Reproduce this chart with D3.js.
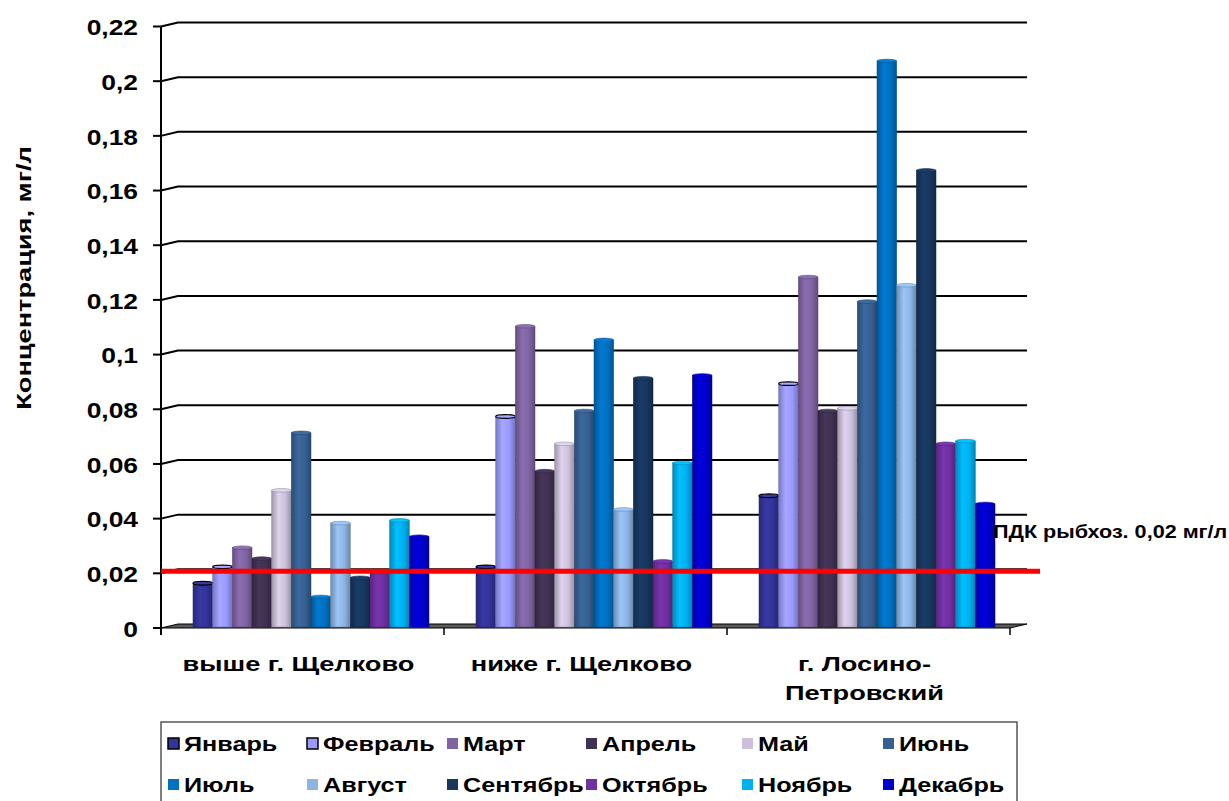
<!DOCTYPE html>
<html>
<head>
<meta charset="utf-8">
<script src="https://cdn.jsdelivr.net/npm/d3@7"></script>
<style>
  body { margin: 0; background: #fff; }
  svg { display: block; font-family: Arial, "Liberation Sans", sans-serif; font-weight: bold; }
</style>
</head>
<body>
<div id="chart"></div>
<script>
// categories (sampling points) and months
var categories = ["выше г. Щелково", "ниже г. Щелково", "г. Лосино-Петровский"];
var category_lines = [["выше г. Щелково"], ["ниже г. Щелково"], ["г. Лосино-", "Петровский"]];
var months = ["Январь", "Февраль", "Март", "Апрель", "Май", "Июнь",
              "Июль", "Август", "Сентябрь", "Октябрь", "Ноябрь", "Декабрь"];
var month_colors = ["#333399", "#9999ff", "#8064a2", "#403152", "#ccc0da", "#376092",
                    "#0070c0", "#8db4e2", "#17375e", "#7030a0", "#00b0f0", "#0000cc"];

// concentration, mg/l, one array per category
var above_shchelkovo = [0.016, 0.022, 0.029, 0.025, 0.050, 0.071, 0.011, 0.038, 0.018, 0.020, 0.039, 0.033];
var below_shchelkovo = [0.022, 0.077, 0.110, 0.057, 0.067, 0.079, 0.105, 0.043, 0.091, 0.024, 0.060, 0.092];
var losino_petrovsky = [0.048, 0.089, 0.128, 0.079, 0.080, 0.119, 0.207, 0.125, 0.167, 0.067, 0.068, 0.045];
var series_by_category = [above_shchelkovo, below_shchelkovo, losino_petrovsky];

var y_ticks = [0, 0.02, 0.04, 0.06, 0.08, 0.1, 0.12, 0.14, 0.16, 0.18, 0.2, 0.22];
var pdk_value = 0.02;
var pdk_label = "ПДК рыбхоз. 0,02 мг/л";
var y_title = "Концентрация, мг/л";

var width = 1229, height = 801;
var svg = d3.select("#chart").append("svg")
    .attr("width", width)
    .attr("height", height);

var y = d3.scaleLinear().domain([0, 0.22]).range([628, 26.5]);
var x0 = d3.scaleBand().domain(categories).range([161, 1010]);
var x1 = d3.scaleBand().domain(months).range([32, 268]);

var depth_x = 17, depth_y = 4;   // pseudo 3d offset of back wall

// the original picture has its text stretched sideways
function place(sel, x, y, sx) {
    return sel.attr("transform", "translate(" + x + "," + y + ") scale(" + sx + ",1)");
}

// gradients for cylinder look
var defs = svg.append("defs");
month_colors.forEach(function(c, i) {
    var g = defs.append("linearGradient").attr("id", "cyl" + i)
        .attr("x1", "0%").attr("x2", "100%").attr("y1", "0%").attr("y2", "0%");
    var base = d3.color(c);
    g.append("stop").attr("offset", "0%").attr("stop-color", base.darker(0.7));
    g.append("stop").attr("offset", "35%").attr("stop-color", base.brighter(0.25));
    g.append("stop").attr("offset", "70%").attr("stop-color", base);
    g.append("stop").attr("offset", "100%").attr("stop-color", base.darker(0.8));
});

// gridlines on back wall with slanted piece
var grid = svg.append("g");
y_ticks.forEach(function(t) {
    if (t === 0) return;
    var yy = y(t);
    grid.append("path")
        .attr("d", "M161," + yy + " L" + (161 + depth_x) + "," + (yy - depth_y) + " L" + (1010 + depth_x) + "," + (yy - depth_y))
        .attr("fill", "none")
        .attr("stroke", "#000")
        .attr("stroke-width", 2);
});

// floor
svg.append("path")
    .attr("d", "M161,628 L" + (161 + depth_x) + "," + (628 - depth_y) + " L" + (1010 + depth_x) + "," + (628 - depth_y) + " L1010,628 Z")
    .attr("fill", "#595959")
    .attr("stroke", "#000")
    .attr("stroke-width", 1);

// bars
var bar_groups = svg.append("g").selectAll("g")
    .data(categories)
    .join("g")
    .attr("transform", function(d) { return "translate(" + x0(d) + ",0)"; });

bar_groups.each(function(cat, ci) {
    var g = d3.select(this);
    var vals = series_by_category[ci];
    var bw = x1.bandwidth();
    vals.forEach(function(v, mi) {
        var bx = x1(months[mi]);
        var top = y(v) - 1;
        g.append("rect")
            .attr("x", bx)
            .attr("y", top)
            .attr("width", bw)
            .attr("height", 627 - top)
            .attr("fill", "url(#cyl" + mi + ")")
            .attr("stroke", d3.color(month_colors[mi]).darker(1))
            .attr("stroke-width", 0.5);
        g.append("ellipse")
            .attr("cx", bx + bw / 2)
            .attr("cy", top)
            .attr("rx", bw / 2)
            .attr("ry", 1.8)
            .attr("fill", d3.color(month_colors[mi]).brighter(0.3))
            .attr("stroke", mi < 2 ? "#000" : d3.color(month_colors[mi]).darker(0.8))
            .attr("stroke-width", mi < 2 ? 1.2 : 0.6);
    });
});

// y axis
svg.append("line")
    .attr("x1", 161).attr("x2", 161)
    .attr("y1", y(0.22)).attr("y2", 635)
    .attr("stroke", "#000").attr("stroke-width", 2);

var yt = svg.append("g").selectAll("g")
    .data(y_ticks)
    .join("g")
    .attr("transform", function(d) { return "translate(0," + y(d) + ")"; });
yt.append("line")
    .attr("x1", 153).attr("x2", 161)
    .attr("stroke", "#000").attr("stroke-width", 2);
yt.append("text")
    .call(place, 138, 1, 1.2)
    .attr("dy", "0.35em")
    .attr("text-anchor", "end")
    .attr("font-size", 22)
    .text(function(d) { return d3.format("~g")(d).replace(".", ","); });

// category axis ticks
var cat_edges = categories.map(function(c) { return x0(c); }).concat([x0.range()[1]]);
svg.append("g").selectAll("line")
    .data(cat_edges)
    .join("line")
    .attr("x1", function(d) { return d; })
    .attr("x2", function(d) { return d; })
    .attr("y1", 628).attr("y2", 635)
    .attr("stroke", "#000").attr("stroke-width", 1.5);

// category labels
svg.append("g").selectAll("text")
    .data(categories)
    .join("text")
    .each(function(d, i) {
        var t = d3.select(this);
        place(t, x0(d) + x0.bandwidth() / 2 - 4, 671, 1.36);
        category_lines[i].forEach(function(line, li) {
            t.append("tspan")
                .attr("x", 0)
                .attr("dy", li === 0 ? 0 : 29)
                .text(line);
        });
    })
    .attr("text-anchor", "middle")
    .attr("font-size", 20);

// PDK line
svg.append("line")
    .attr("x1", 161).attr("x2", 1040)
    .attr("y1", y(pdk_value) - 2).attr("y2", y(pdk_value) - 2)
    .attr("stroke", "#ff0000").attr("stroke-width", 5);

svg.append("text")
    .call(place, 993, 538, 1.2)
    .attr("font-size", 18)
    .text(pdk_label);

// y title
svg.append("text")
    .attr("transform", "translate(31,278) rotate(-90) scale(1.36,1)")
    .attr("text-anchor", "middle")
    .attr("font-size", 20)
    .text(y_title);

// legend
svg.append("rect")
    .attr("x", 161).attr("y", 722)
    .attr("width", 856).attr("height", 82)
    .attr("fill", "#fff")
    .attr("stroke", "#555").attr("stroke-width", 1.5);

var legend_cols = [168, 307, 447, 586, 742, 883];
var legend_rows = [744, 785];
var leg = svg.append("g").selectAll("g")
    .data(months)
    .join("g")
    .attr("transform", function(d, i) {
        return "translate(" + legend_cols[i % 6] + "," + legend_rows[Math.floor(i / 6)] + ")";
    });
leg.append("rect")
    .attr("x", 0).attr("y", -6)
    .attr("width", 11).attr("height", 11)
    .attr("fill", function(d, i) { return month_colors[i]; })
    .attr("stroke", function(d, i) { return i < 2 ? "#000" : "none"; })
    .attr("stroke-width", 1.5);
leg.append("text")
    .call(place, 16, 0, 1.26)
    .attr("dy", "0.35em")
    .attr("font-size", 20)
    .text(function(d) { return d; });
</script>
</body>
</html>
